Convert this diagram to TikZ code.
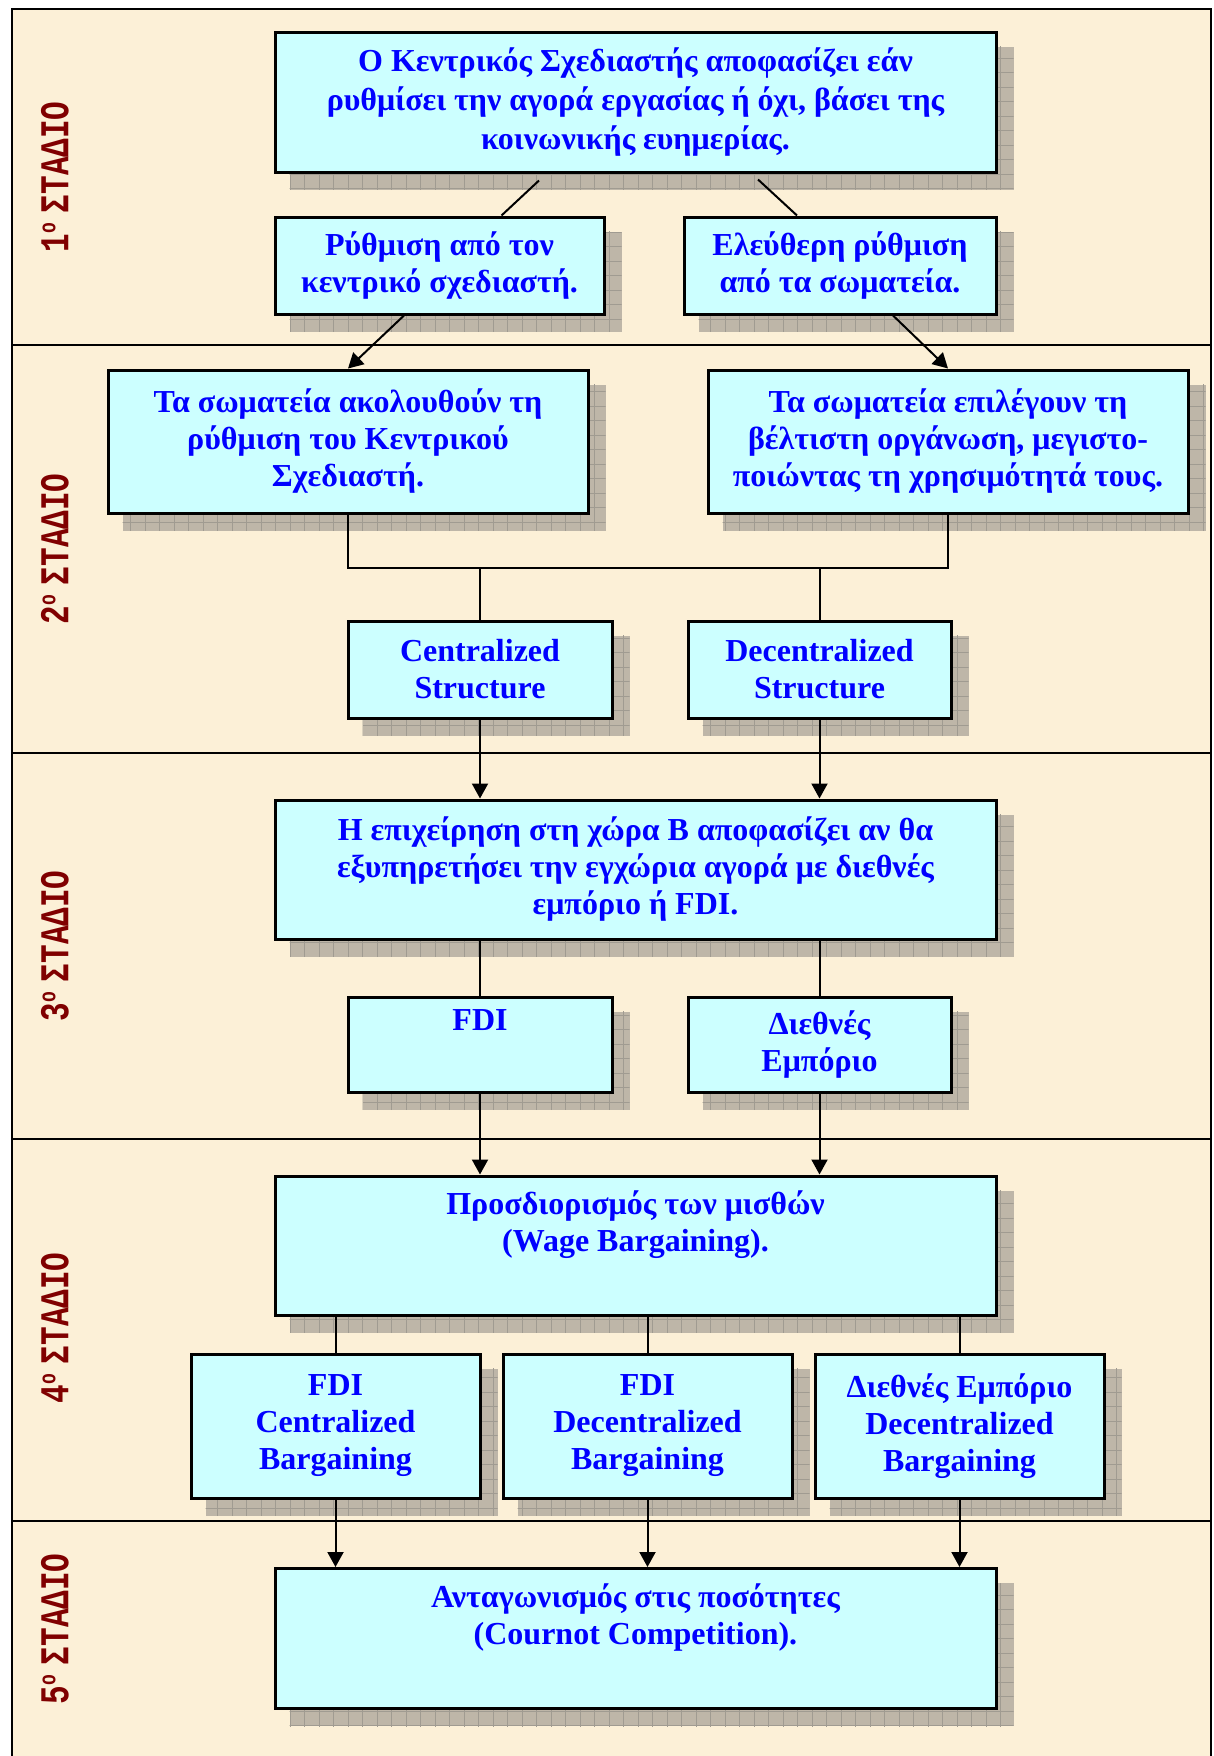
\documentclass[tikz,border=0pt]{standalone}
\usepackage{fontspec}
\setmainfont{Liberation Serif}
\newfontfamily\stagefont{Liberation Mono}
\usetikzlibrary{arrows.meta,calc}
\definecolor{bgbeige}{RGB}{252,240,215}
\definecolor{boxcyan}{RGB}{204,255,255}
\definecolor{txtblue}{RGB}{0,0,255}
\definecolor{stagered}{RGB}{128,0,0}
\definecolor{shadowgray}{RGB}{190,182,168}
\definecolor{shadowline}{RGB}{160,155,145}
\pgfdeclarelayer{back}
\pgfdeclarelayer{shade}
\pgfsetlayers{back,shade,main}
\newcommand\boxshade[1]{%
  \begin{pgfonlayer}{shade}
    \fill[shadowgray] ($(#1.north west)+(16,16)$) rectangle ($(#1.south east)+(16,16)$);
    \begin{scope}
      \clip ($(#1.north west)+(16,16)$) rectangle ($(#1.south east)+(16,16)$);
      \draw[shadowline, line width=0.7pt, step=14.5pt] (0pt,-1770pt) grid (1220pt,0pt);
    \end{scope}
  \end{pgfonlayer}}
\newcommand\mkbox[6]{%
  \node[boxnode, minimum width=#4, minimum height=#5] (#1) at (#2,#3) {#6};
  \boxshade{#1}}
\newcommand\stagetext[1]{\scalebox{1}[1.32]{#1\raisebox{10pt}{\fontsize{18}{18}\selectfont ο}\hspace{10pt}ΣΤΑΔΙΟ}}
\tikzset{
  boxnode/.style={draw, line width=3pt, fill=boxcyan, text=txtblue,
    font=\fontsize{32}{37}\selectfont\bfseries, align=center, inner sep=0pt},
  widespacing/.style={font=\fontsize{32}{39}\selectfont\bfseries},
  stagelabel/.style={text=stagered, font=\stagefont\fontsize{31}{31}\selectfont\bfseries,
    rotate=90, inner sep=0pt},
  conn/.style={line width=2pt, draw=black},
  arr/.style={conn, -{Triangle[width=16pt,length=15pt]}},
  sepline/.style={line width=2pt, draw=black}
}
\begin{document}
\begin{tikzpicture}[x=1pt, y=-1pt]
\useasboundingbox (0,0) rectangle (1213,1756);
\begin{pgfonlayer}{back}
  \fill[white] (0,0) rectangle (1213,1756);
  \fill[bgbeige] (12,9) rectangle (1211,1756);
\end{pgfonlayer}
% frame and stage separators
\draw[line width=2.5pt] (12,1770) -- (12,9) -- (1211,9) -- (1211,1770);
\draw[sepline] (12,345) -- (1211,345);
\draw[sepline] (12,753) -- (1211,753);
\draw[sepline] (12,1139) -- (1211,1139);
\draw[sepline] (12,1521) -- (1211,1521);
% stage labels
\node[stagelabel] (st1) at (55,177) {\stagetext{1}};
\node[stagelabel] (st2) at (55,549) {\stagetext{2}};
\node[stagelabel] (st3) at (55,946) {\stagetext{3}};
\node[stagelabel] (st4) at (55,1328) {\stagetext{4}};
\node[stagelabel] (st5) at (55,1629) {\stagetext{5}};
% boxes
\node[boxnode, widespacing, minimum width=721, minimum height=140] (b1) at (635.5,102)
  {Ο Κεντρικός Σχεδιαστής αποφασίζει εάν\\ ρυθμίσει την αγορά εργασίας ή όχι, βάσει της\\ κοινωνικής ευημερίας.};
\boxshade{b1}
\mkbox{s1a}{439.5}{265.5}{329}{97}{Ρύθμιση από τον\\ κεντρικό σχεδιαστή.}
\mkbox{s1b}{840}{265.5}{312}{97}{Ελεύθερη ρύθμιση\\ από τα σωματεία.}
\mkbox{b2a}{348}{441.5}{480}{143}{Τα σωματεία ακολουθούν τη\\ ρύθμιση του Κεντρικού\\ Σχεδιαστή.}
\mkbox{b2b}{948}{441.5}{480}{143}{Τα σωματεία επιλέγουν τη\\ βέλτιστη οργάνωση, μεγιστο-\\ ποιώντας τη χρησιμότητά τους.}
\mkbox{c2a}{480}{669.5}{264}{97}{Centralized\\ Structure}
\mkbox{c2b}{819.5}{669.5}{263}{97}{Decentralized\\ Structure}
\mkbox{b3}{635.5}{869.5}{721}{139}{Η επιχείρηση στη χώρα Β αποφασίζει αν θα\\ εξυπηρετήσει την εγχώρια αγορά με διεθνές\\ εμπόριο ή FDI.}
\mkbox{c3a}{480}{1044.5}{264}{95}{FDI\\ \strut}
\mkbox{c3b}{819.5}{1044.5}{263}{95}{Διεθνές\\ Εμπόριο}
\mkbox{b4}{635.5}{1245.5}{721}{139}{Προσδιορισμός των μισθών\\ (Wage Bargaining).\\ \strut}
\mkbox{c4a}{335.5}{1426}{289}{144}{FDI\\ Centralized\\ Bargaining}
\mkbox{c4b}{647.5}{1426}{289}{144}{FDI\\ Decentralized\\ Bargaining}
\mkbox{c4c}{959.5}{1426}{289}{144}{Διεθνές Εμπόριο\\ Decentralized\\ Bargaining}
\mkbox{b5}{635.5}{1638.5}{721}{140}{Ανταγωνισμός στις ποσότητες\\ (Cournot Competition).\\ \strut}
% connectors stage 1
\draw[conn] ($(b1.south)+(-96.5,7)$) -- ($(s1a.north)+(62,0)$);
\draw[conn] ($(b1.south)+(122.5,6)$) -- ($(s1b.north)+(-43,0)$);
\draw[arr] ($(s1a.south)+(-35.5,0)$) -- (b2a.north);
\draw[arr] ($(s1b.south)+(53,0)$) -- (b2b.north);
% stage 2
\coordinate (hbar) at ($(b2a.south)+(0,53)$);
\draw[conn] (b2a.south) -- (hbar) -| (b2b.south);
\draw[conn] (c2a.north |- hbar) -- (c2a.north);
\draw[conn] (c2b.north |- hbar) -- (c2b.north);
\draw[arr] (c2a.south) -- (c2a.south |- b3.north);
\draw[arr] (c2b.south) -- (c2b.south |- b3.north);
% stage 3
\draw[conn] (b3.south -| c3a.north) -- (c3a.north);
\draw[conn] (b3.south -| c3b.north) -- (c3b.north);
\draw[arr] (c3a.south) -- (c3a.south |- b4.north);
\draw[arr] (c3b.south) -- (c3b.south |- b4.north);
% stage 4
\draw[conn] (b4.south -| c4a.north) -- (c4a.north);
\draw[conn] (b4.south -| c4b.north) -- (c4b.north);
\draw[conn] (b4.south -| c4c.north) -- (c4c.north);
\draw[arr] (c4a.south) -- (c4a.south |- b5.north);
\draw[arr] (c4b.south) -- (c4b.south |- b5.north);
\draw[arr] (c4c.south) -- (c4c.south |- b5.north);
\end{tikzpicture}
\end{document}
